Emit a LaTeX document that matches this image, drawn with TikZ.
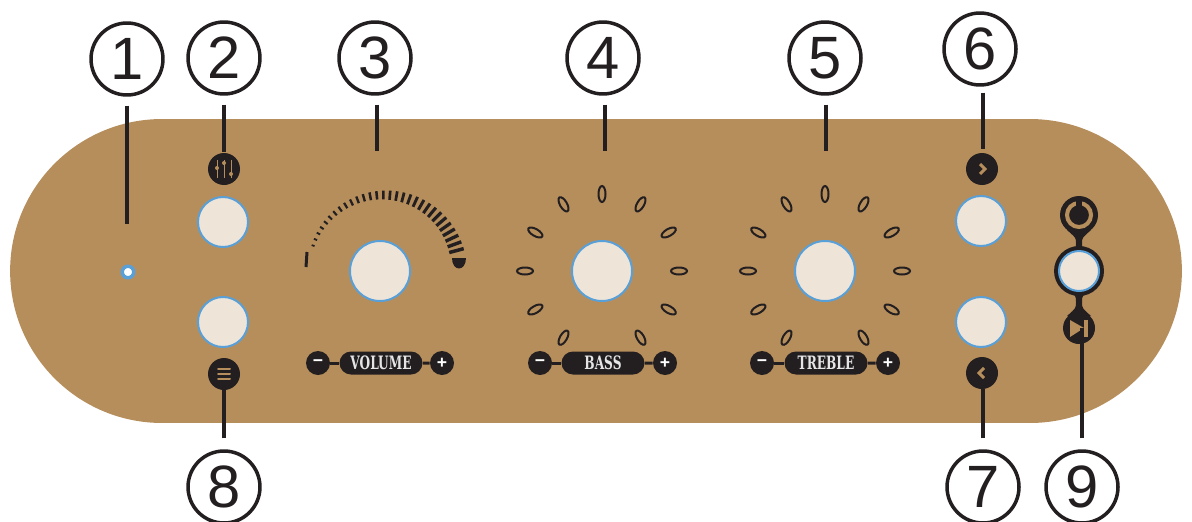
\documentclass[tikz,border=0pt]{standalone}
\usepackage{fontspec}
\setmainfont{Liberation Sans}
\newfontfamily\tagfont[FakeStretch=0.66]{DejaVu Serif}
\usetikzlibrary{shapes.misc}
\definecolor{panelbrown}{HTML}{B68E5C}
\definecolor{knobcream}{HTML}{EEE5D8}
\definecolor{ledblue}{HTML}{5AA0D8}
\definecolor{inkblack}{HTML}{231F20}
\tikzset{
	callout/.style={circle,draw=inkblack,fill=white,line width=0.07cm,minimum size=1.44cm,inner sep=0pt,font=\fontsize{34}{34}\selectfont,text=inkblack},
	leader/.style={draw=inkblack,line width=0.08cm},
	knob/.style={circle,draw=ledblue,fill=knobcream,line width=0.04cm,inner sep=0pt,minimum size=#1},
	icon/.style={circle,fill=inkblack,inner sep=0pt,minimum size=#1},
	glyph/.style={draw=panelbrown,line width=0.04cm},
	levelmark/.style={draw=inkblack,line width=0.04cm,fill=panelbrown},
	tagbox/.style={rounded rectangle,fill=inkblack,inner sep=0pt,minimum width=1.66cm,minimum height=0.46cm,text=white!90!black,font=\tagfont\fontsize{10.5}{11}\selectfont\bfseries},
	tagend/.style={circle,fill=inkblack,inner sep=0pt,minimum size=0.48cm,text=white,font=\fontsize{10}{10}\selectfont\bfseries},
	tagneck/.style={draw=inkblack,line width=0.06cm}
}
\begin{document}
\begin{tikzpicture}[x=0.02cm,y=-0.02cm]
	\useasboundingbox (0,0) rectangle (1192,521);
	% panel
	\node[rounded corners=3.04cm,fill=panelbrown,minimum width=23.44cm,minimum height=6.08cm,inner sep=0pt] (panel) at (596,271) {};
	% callouts
	\node[callout] (n1) at (127,59) {1};
	\node[callout] (n2) at (224,58) {2};
	\node[callout] (n3) at (375,58) {3};
	\node[callout] (n4) at (603,58) {4};
	\node[callout] (n5) at (825,58) {5};
	\node[callout] (n6) at (980,49) {6};
	\node[callout] (n7) at (983,487) {7};
	\node[callout] (n8) at (224,487) {8};
	\node[callout] (n9) at (1082,487) {9};
	% knobs
	\node[knob=1.0cm] (eqknob) at (223,222) {};
	\node[knob=1.0cm] (menuknob) at (223,322) {};
	\node[knob=1.2cm] (volumeknob) at (380,271) {};
	\node[knob=1.2cm] (bassknob) at (602,271) {};
	\node[knob=1.2cm] (trebleknob) at (825,271) {};
	\node[knob=1.0cm] (nextknob) at (981,221) {};
	\node[knob=1.0cm] (prevknob) at (981,322) {};
	\node[circle,draw=ledblue,fill=white,line width=0.07cm,minimum size=0.23cm,inner sep=0pt] (led) at (128,272) {};
	% icons
	\node[icon=0.64cm] (eqicon) at (224,169) {};
	\node[icon=0.64cm] (menuicon) at (224,374) {};
	\node[icon=0.64cm] (nexticon) at (982,169) {};
	\node[icon=0.64cm] (previcon) at (982,373) {};
	\node[icon=0.76cm] (powericon) at (1079,215) {};
	\node[icon=0.64cm] (playicon) at (1079,328) {};
	\node[icon=1.0cm] (powerring) at (1079,271) {};
	\fill[inkblack] (1067,230) .. controls (1076,238) .. (1076,243) .. controls (1076,248) .. (1067,256) -- (1091,256) .. controls (1082,248) .. (1082,243) .. controls (1082,238) .. (1091,230) -- cycle;
	\fill[inkblack] (1067,288) .. controls (1076,296) .. (1076,302) .. controls (1076,308) .. (1067,316) -- (1091,316) .. controls (1082,308) .. (1082,302) .. controls (1082,296) .. (1091,288) -- cycle;
	\node[knob=0.8cm] (powerknob) at (1079,271) {};
	% icon glyphs
	\draw[glyph,line width=0.02cm] (217,160) -- (217,178) (224,160) -- (224,178) (231,160) -- (231,178);
	\fill[panelbrown] (217,168) circle (2) (224,163) circle (2) (231,174) circle (2);
	\draw[glyph,line width=0.04cm,line cap=round] (218,369) -- (230,369) (218,374) -- (230,374) (218,379) -- (230,379);
	\draw[glyph,line width=0.06cm] (980,164) -- (985,169) -- (980,174);
	\draw[glyph,line width=0.06cm] (984,368) -- (979,373) -- (984,378);
	\draw[glyph,line width=0.08cm] (1079,215) circle (12);
	\fill[inkblack] (1079,215) circle (8);
	\draw[inkblack,line width=0.12cm] (1079,198) -- (1079,215);
	\fill[panelbrown] (1070,320) -- (1084,328) -- (1070,337) -- cycle;
	\fill[panelbrown] (1084,320) rectangle (1088,337);
	% leaders
	\coordinate (tip1) at (127,224);
	\coordinate (tip3) at (377,151);
	\coordinate (tip4) at (605,151);
	\coordinate (tip5) at (826,151);
	\draw[leader,shorten <=0.18cm] (n1.south) -- (tip1);
	\draw[leader,shorten <=0.18cm,shorten >=0.02cm] (n2.south) -- (eqicon.north);
	\draw[leader,shorten <=0.18cm] (n3.south -| tip3) -- (tip3);
	\draw[leader,shorten <=0.18cm] (n4.south -| tip4) -- (tip4);
	\draw[leader,shorten <=0.18cm] (n5.south -| tip5) -- (tip5);
	\draw[leader,shorten <=0.12cm,shorten >=0.08cm] (n6.south -| n7.north) -- (n7.north |- nexticon.north);
	\draw[leader,shorten <=0.22cm] (n7.north) -- (n7.north |- previcon.south);
	\draw[leader,shorten <=0.22cm] (n8.north) -- (menuicon.south);
	\draw[leader,shorten <=0.22cm] (n9.north) -- (n9.north |- playicon);
	% volume gauge
	\foreach \i in {0,...,29} {
		\pgfmathsetmacro{\ang}{161-146*\i/29}
		\pgfmathsetmacro{\len}{1.5+6*\i/29}
		\pgfmathsetmacro{\wid}{0.035+0.035*\i/29}
		\draw[inkblack,line width=\wid cm] (384,270) ++(-\ang:75-\len) -- ++(-\ang:2*\len);
	}
	\draw[inkblack,line width=0.06cm] (307,252) -- (306,267);
	\fill[inkblack] (452,258) -- (466,258) .. controls (466,272) and (452,272) .. (452,258) -- cycle;
	% level marks
	\foreach \a in {0,30,60,120,150,180,210,240,270,300,330} {
		\draw[levelmark] (602,271) ++(\a:77) ellipse[x radius=8,y radius=3.5,rotate=-\a];
		\draw[levelmark] (825,271) ++(\a:77) ellipse[x radius=8,y radius=3.5,rotate=-\a];
	}
	% tags
	\node[tagend] (volumeminus) at (318,363) {−};
	\node[tagend] (volumeplus) at (442,363) {+};
	\node[tagbox] (volumetag) at (381,363) {VOLUME};
	\node[tagend] (bassminus) at (540,363) {−};
	\node[tagend] (bassplus) at (665,363) {+};
	\node[tagbox] (basstag) at (603,363) {BASS};
	\node[tagend] (trebleminus) at (762,363) {−};
	\node[tagend] (trebleplus) at (888,363) {+};
	\node[tagbox] (trebletag) at (826,363) {TREBLE};
	\draw[tagneck] (volumeminus) -- (volumetag);
	\draw[tagneck] (volumetag) -- (volumeplus);
	\draw[tagneck] (bassminus) -- (basstag);
	\draw[tagneck] (basstag) -- (bassplus);
	\draw[tagneck] (trebleminus) -- (trebletag);
	\draw[tagneck] (trebletag) -- (trebleplus);
\end{tikzpicture}
\end{document}
